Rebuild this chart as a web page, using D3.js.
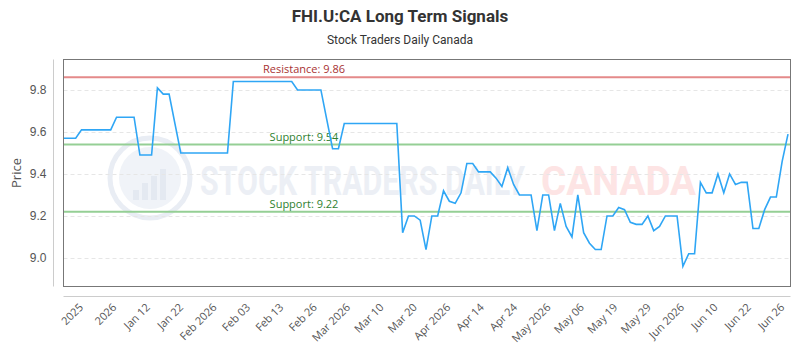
<!DOCTYPE html>
<html>
<head>
<meta charset="utf-8">
<script src="https://cdn.jsdelivr.net/npm/d3@7"></script>
<style>
  body { margin: 0; background: #fff; }
  svg { display: block; font-family: "Open Sans", "DejaVu Sans", sans-serif; }
</style>
</head>
<body>
<div id="chart"></div>
<script>
// daily closes, one per trading day
var prices = [
  9.57, 9.57, 9.57, 9.61, 9.61, 9.61, 9.61, 9.61, 9.61, 9.67,
  9.67, 9.67, 9.67, 9.49, 9.49, 9.49, 9.81, 9.78, 9.78, 9.64,
  9.50, 9.50, 9.50, 9.50, 9.50, 9.50, 9.50, 9.50, 9.50, 9.84,
  9.84, 9.84, 9.84, 9.84, 9.84, 9.84, 9.84, 9.84, 9.84, 9.84,
  9.80, 9.80, 9.80, 9.80, 9.80, 9.66, 9.52, 9.52, 9.64, 9.64,
  9.64, 9.64, 9.64, 9.64, 9.64, 9.64, 9.64, 9.64, 9.12, 9.20,
  9.20, 9.18, 9.04, 9.20, 9.20, 9.32, 9.27, 9.26, 9.31, 9.45,
  9.45, 9.41, 9.41, 9.41, 9.38, 9.34, 9.43, 9.35, 9.30, 9.30,
  9.30, 9.13, 9.30, 9.30, 9.13, 9.26, 9.15, 9.10, 9.30, 9.12,
  9.07, 9.04, 9.04, 9.20, 9.20, 9.24, 9.23, 9.17, 9.16, 9.16,
  9.20, 9.13, 9.15, 9.20, 9.20, 9.20, 8.96, 9.02, 9.02, 9.36,
  9.31, 9.31, 9.40, 9.31, 9.40, 9.35, 9.36, 9.36, 9.14, 9.14,
  9.23, 9.29, 9.29, 9.46, 9.59
];

var tickLabels = ["2025", "2026", "Jan 12", "Jan 22", "Feb 2026", "Feb 03", "Feb 13",
  "Feb 26", "Mar 2026", "Mar 10", "Mar 20", "Apr 2026", "Apr 14", "Apr 24",
  "May 2026", "May 06", "May 19", "May 29", "Jun 2026", "Jun 10", "Jun 22", "Jun 26"];

var yTicks = [9.0, 9.2, 9.4, 9.6, 9.8];

var levels = [
  { label: "Resistance: 9.86", value: 9.86, kind: "res" },
  { label: "Support: 9.54", value: 9.54, kind: "sup" },
  { label: "Support: 9.22", value: 9.22, kind: "sup" }
];

(function () {
  var width = 800, height = 350;
  var plotL = 63.5, plotR = 790.5, plotT = 59.5, plotB = 286.5;

  var svg = d3.select("#chart").append("svg")
    .attr("width", width)
    .attr("height", height);

  var x = d3.scaleLinear().domain([0, prices.length - 1]).range([64, 788]);
  var y = d3.scaleLinear().domain([8.864, 9.945]).range([plotB, plotT]);

  // titles
  svg.append("text")
    .attr("x", 400).attr("y", 22)
    .attr("text-anchor", "middle")
    .style("font-family", "Roboto, sans-serif")
    .style("font-size", "17px").style("font-weight", "bold")
    .style("fill", "#333")
    .text("FHI.U:CA Long Term Signals");

  svg.append("text")
    .attr("x", 400).attr("y", 44)
    .attr("text-anchor", "middle")
    .style("font-family", "Roboto, sans-serif")
    .style("font-size", "12px")
    .style("fill", "#333")
    .text("Stock Traders Daily Canada");

  // watermark
  var wm = svg.append("g");
  wm.append("circle").attr("cx", 150).attr("cy", 178).attr("r", 40)
    .attr("fill", "none").attr("stroke", "#e9edf4").attr("stroke-width", 5);
  wm.append("circle").attr("cx", 150).attr("cy", 178).attr("r", 31)
    .attr("fill", "#f0f3f8");
  [0, 1, 2, 3].forEach(function(i) {
    wm.append("rect")
      .attr("x", 133 + i * 9).attr("y", 190 - i * 7)
      .attr("width", 6).attr("height", 10 + i * 7)
      .attr("fill", "#e4e9f1");
  });
  wm.append("text")
    .attr("x", 200).attr("y", 195)
    .attr("textLength", 325).attr("lengthAdjust", "spacingAndGlyphs")
    .style("font-family", "Roboto, sans-serif")
    .style("font-size", "40px").style("font-weight", "bold")
    .style("fill", "#eceff5")
    .text("STOCK TRADERS DAILY");
  wm.append("text")
    .attr("x", 541).attr("y", 195)
    .attr("textLength", 155).attr("lengthAdjust", "spacingAndGlyphs")
    .style("font-family", "Roboto, sans-serif")
    .style("font-size", "40px").style("font-weight", "bold")
    .style("fill", "#fde4e4")
    .text("CANADA");

  // grid
  svg.append("g").selectAll("line")
    .data(yTicks)
    .enter().append("line")
    .attr("x1", plotL).attr("x2", plotR)
    .attr("y1", function(d) { return Math.round(y(d)) + 0.5; })
    .attr("y2", function(d) { return Math.round(y(d)) + 0.5; })
    .attr("stroke", "#e6e6e6")
    .attr("stroke-dasharray", "4,3");

  // y axis
  var yAxis = svg.append("g")
    .attr("transform", "translate(53.5,0)")
    .call(d3.axisLeft(y).tickValues(yTicks).tickSize(0).tickPadding(7).tickFormat(d3.format(".1f")));
  yAxis.select(".domain").attr("stroke", "#ccc").attr("d", "M0," + plotT + "V" + plotB);
  yAxis.selectAll("text").style("font-size", "12px").style("fill", "#555");

  svg.append("text")
    .attr("transform", "translate(21," + ((plotT + plotB) / 2) + ") rotate(-90)")
    .attr("text-anchor", "middle")
    .style("font-size", "13px").style("fill", "#555")
    .text("Price");

  // x axis line and labels
  svg.append("line")
    .attr("x1", plotL).attr("x2", plotR)
    .attr("y1", 296.5).attr("y2", 296.5)
    .attr("stroke", "#ccc");

  var tickStart = 3.4, tickStep = 5.72;
  svg.append("g").selectAll("text")
    .data(tickLabels)
    .enter().append("text")
    .attr("transform", function(d, i) {
      return "translate(" + x(tickStart + i * tickStep) + ",308) rotate(-45)";
    })
    .attr("text-anchor", "end")
    .style("font-size", "11px").style("fill", "#555")
    .text(function(d) { return d; });

  // plot border
  svg.append("rect")
    .attr("x", plotL).attr("y", plotT)
    .attr("width", plotR - plotL).attr("height", plotB - plotT)
    .attr("fill", "none").attr("stroke", "#777");

  // signal levels
  var lv = svg.append("g").selectAll("g").data(levels).enter().append("g");
  lv.append("line")
    .attr("x1", plotL + 0.5).attr("x2", plotR - 0.5)
    .attr("y1", function(d) { return y(d.value); })
    .attr("y2", function(d) { return y(d.value); })
    .attr("stroke", function(d) { return d.kind === "res" ? "#e48a8a" : "#95cf95"; })
    .attr("stroke-width", 2);
  lv.append("text")
    .attr("x", 304)
    .attr("y", function(d) { return y(d.value) - 4; })
    .attr("text-anchor", "middle")
    .style("font-size", "11px")
    .style("fill", function(d) { return d.kind === "res" ? "#a83232" : "#2f7f2f"; })
    .text(function(d) { return d.label; });

  // price line
  var line = d3.line()
    .x(function(d, i) { return x(i); })
    .y(function(d) { return y(d); });

  svg.append("path")
    .datum(prices)
    .attr("d", line)
    .attr("fill", "none")
    .attr("stroke", "#2fa6f5")
    .attr("stroke-width", 1.6);
})();
</script>
</body>
</html>
